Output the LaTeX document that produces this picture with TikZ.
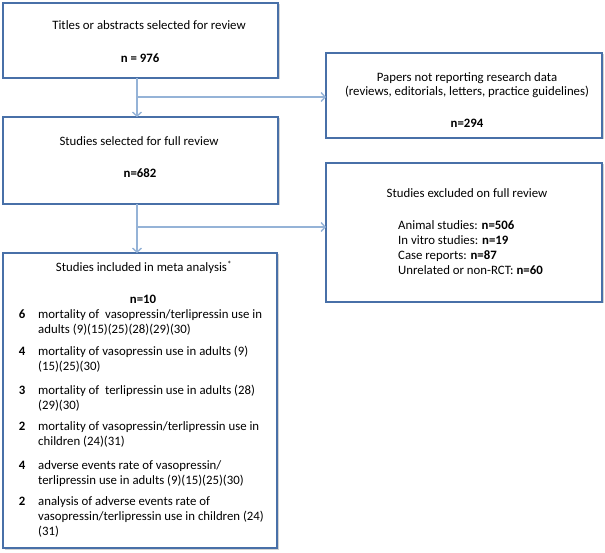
\documentclass[tikz,border=0pt]{standalone}
\usepackage{fontspec}
\setmainfont{Carlito}
\usetikzlibrary{arrows.meta,shadows}
\definecolor{boxblue}{RGB}{72,112,168}
\definecolor{linkblue}{RGB}{149,179,215}
\begin{document}
\begin{tikzpicture}[x=1pt,y=-1pt,
  flowbox/.style={draw=boxblue,line width=1.6pt,fill=white,
    drop shadow={shadow xshift=1.5pt,shadow yshift=-1.5pt,opacity=0.35,fill=gray}},
  link/.style={draw=linkblue,line width=1.4pt},
  arrowlink/.style={link,-{Straight Barb[length=4pt,width=9pt,line width=1.4pt]}},
  txt/.style={font=\fontsize{12.8}{15}\selectfont,inner sep=0pt,anchor=mid},
  ltxt/.style={font=\fontsize{12.8}{15}\selectfont,inner sep=0pt,anchor=mid west},
  num/.style={font=\fontsize{12.8}{15}\selectfont\bfseries,inner sep=0pt,anchor=mid}
]
\useasboundingbox (0,0) rectangle (605,553);

% boxes
\path[flowbox] (3,3) rectangle (278,78);
\node[inner sep=0pt,minimum width=0pt] (b1) at (140.5,40.5) {};
\path[flowbox] (326,53) rectangle (602,138);
\node[inner sep=0pt] (b2) at (464,95.5) {};
\path[flowbox] (3,117) rectangle (278,204);
\node[inner sep=0pt] (b3) at (140.5,160.5) {};
\path[flowbox] (326,163) rectangle (602,302);
\node[inner sep=0pt] (b4) at (464,232.5) {};
\path[flowbox] (3,253) rectangle (277,548);
\node[inner sep=0pt] (b5) at (140,400.5) {};

% named anchor points for connectors
\coordinate (b1s) at (137,78);
\coordinate (b3n) at (137,117);
\coordinate (br1) at (137,97);
\coordinate (b2w) at (326,97);
\coordinate (b3s) at (137,204);
\coordinate (b5n) at (137,253);
\coordinate (br2) at (137,227);
\coordinate (b4w) at (326,227);

% connectors
\draw[arrowlink] (b1s) -- (b3n);
\draw[arrowlink] (br1) -- (b2w);
\draw[arrowlink] (b3s) -- (b5n);
\draw[arrowlink] (br2) -- (b4w);

% box 1
\node[txt] (t1) at (149,27) {Titles or abstracts selected for review};
\node[num] (n1) at (140,60) {n = 976};

% box papers
\node[txt] (t2a) at (467,79) {Papers not reporting research data};
\node[txt] (t2b) at (467,93) {(reviews, editorials, letters, practice guidelines)};
\node[num] (n2) at (467,125) {n=294};

% box studies selected
\node[txt] (t3) at (139,143) {Studies selected for full review};
\node[num] (n3) at (140,175) {n=682};

% box excluded
\node[txt] (t4) at (467,195) {Studies excluded on full review};
\node[ltxt] (e1) at (398,227) {Animal studies: \textbf{n=506}};
\node[ltxt] (e2) at (398,242) {In vitro studies: \textbf{n=19}};
\node[ltxt] (e3) at (398,257) {Case reports: \textbf{n=87}};
\node[ltxt] (e4) at (398,272) {Unrelated or non-RCT: \textbf{n=60}};

% box meta analysis
\node[txt] (t5) at (144,269) {Studies included in meta analysis\textsuperscript{*}};
\node[num] (n5) at (143,301) {n=10};

\node[num] (k1) at (22,316) {6};
\node[ltxt] (m1a) at (38,316) {mortality of\ \ vasopressin/terlipressin use in};
\node[ltxt] (m1b) at (38,331) {adults (9)(15)(25)(28)(29)(30)};

\node[num] (k2) at (22,353) {4};
\node[ltxt] (m2a) at (38,353) {mortality of vasopressin use in adults (9)};
\node[ltxt] (m2b) at (38,368) {(15)(25)(30)};

\node[num] (k3) at (22,392) {3};
\node[ltxt] (m3a) at (38,392) {mortality of\ \ terlipressin use in adults (28)};
\node[ltxt] (m3b) at (38,407) {(29)(30)};

\node[num] (k4) at (22,428) {2};
\node[ltxt] (m4a) at (38,428) {mortality of vasopressin/terlipressin use in};
\node[ltxt] (m4b) at (38,443) {children (24)(31)};

\node[num] (k5) at (22,467) {4};
\node[ltxt] (m5a) at (38,467) {adverse events rate of vasopressin/};
\node[ltxt] (m5b) at (38,482) {terlipressin use in adults (9)(15)(25)(30)};

\node[num] (k6) at (22,503) {2};
\node[ltxt] (m6a) at (38,503) {analysis of adverse events rate of};
\node[ltxt] (m6b) at (38,518) {vasopressin/terlipressin use in children (24)};
\node[ltxt] (m6c) at (38,533) {(31)};
\end{tikzpicture}
\end{document}
